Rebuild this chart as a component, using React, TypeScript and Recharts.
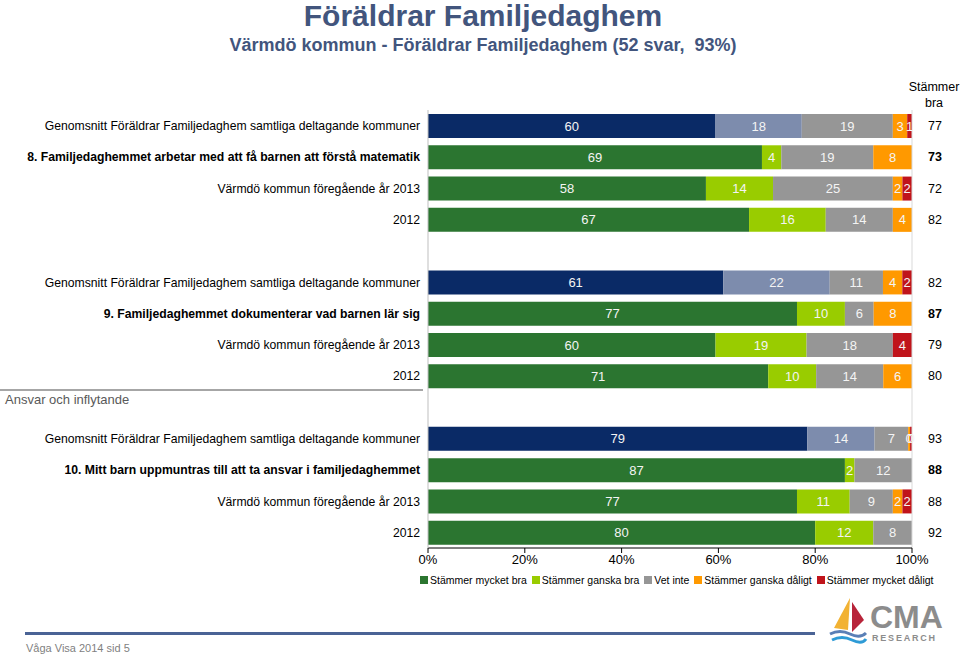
import React from "react";
import { BarChart, Bar, XAxis, YAxis, Cell, LabelList, ReferenceLine } from "recharts";

const categories = [
  "Genomsnitt Föräldrar Familjedaghem samtliga deltagande kommuner",
  "8. Familjedaghemmet arbetar med att få barnen att förstå matematik",
  "Värmdö kommun föregående år 2013",
  "2012",
  "",
  "Genomsnitt Föräldrar Familjedaghem samtliga deltagande kommuner",
  "9. Familjedaghemmet dokumenterar vad barnen lär sig",
  "Värmdö kommun föregående år 2013",
  "2012",
  "",
  "Genomsnitt Föräldrar Familjedaghem samtliga deltagande kommuner",
  "10. Mitt barn uppmuntras till att ta ansvar i familjedaghemmet",
  "Värmdö kommun föregående år 2013",
  "2012",
];
const rowKind = ["avg", "q", "prev", "prev", "gap", "avg", "q", "prev", "prev", "gap", "avg", "q", "prev", "prev"];

const mycketBra = [60, 69, 58, 67, null, 61, 77, 60, 71, null, 79, 87, 77, 80];
const ganskaBra = [18, 4, 14, 16, null, 22, 10, 19, 10, null, 14, 2, 11, 12];
const vetInte = [19, 19, 25, 14, null, 11, 6, 18, 14, null, 7, 12, 9, 8];
const ganskaDaligt = [3, 8, 2, 4, null, 4, 8, 0, 6, null, 0.4, 0, 2, 0];
const mycketDaligt = [1, 0, 2, 0, null, 2, 0, 4, 0, null, 0.4, 0, 2, 0];
const stammerBra = [77, 73, 72, 82, null, 82, 87, 79, 80, null, 93, 88, 88, 92];

const seriesNames = ["Stämmer mycket bra", "Stämmer ganska bra", "Vet inte", "Stämmer ganska dåligt", "Stämmer mycket dåligt"];
const seriesColors = ["#2B7530", "#99CC00", "#969696", "#FF9900", "#C0141B"];
const avgColors = ["#0A2A66", "#7D8CAD"];
const xTicks = [0, 0.2, 0.4, 0.6, 0.8, 1];

const data = categories.map((name, i) => ({
  id: "r" + i,
  name,
  kind: rowKind[i],
  mb: mycketBra[i],
  gb: ganskaBra[i],
  vi: vetInte[i],
  gd: ganskaDaligt[i],
  md: mycketDaligt[i],
  sb: stammerBra[i],
}));

const FONT = "'Liberation Sans', Arial, sans-serif";

const CategoryTick = (props: any) => {
  const { x, y, payload } = props;
  const idx = data.findIndex((d) => d.id === payload.value);
  const row = data[idx];
  if (!row || row.kind === "gap") return null;
  const bold = row.kind === "q";
  return (
    <g>
      <text x={x} y={y} dy={4.5} textAnchor="end" fontSize={12.2} fontFamily={FONT} fontWeight={bold ? "bold" : "normal"} fill="#000">
        {row.name}
      </text>
      <text x={935} y={y} dy={4.5} textAnchor="middle" fontSize={12.5} fontFamily={FONT} fontWeight={bold ? "bold" : "normal"} fill="#000">
        {row.sb}
      </text>
    </g>
  );
};

const fmt = (v: any) => (v == null ? "" : String(Math.round(Number(v))));

const keys = ["mb", "gb", "vi", "gd", "md"];

export default function App() {
  return (
    <div style={{ position: "absolute", left: 0, top: 0, width: 960, height: 657, background: "#fff", fontFamily: FONT, overflow: "hidden" }}>
      <div style={{ position: "absolute", left: 0, top: 0, width: 966, textAlign: "center", fontSize: 30, lineHeight: "32px", fontWeight: "bold", color: "#42557D" }}>
        Föräldrar Familjedaghem
      </div>
      <div style={{ position: "absolute", left: 0, top: 35, width: 966, textAlign: "center", fontSize: 18, fontWeight: "bold", color: "#42557D" }}>
        Värmdö kommun - Föräldrar Familjedaghem (52 svar,&nbsp; 93%)
      </div>
      <div style={{ position: "absolute", left: 905, top: 79, width: 58, textAlign: "center", fontSize: 12.5, lineHeight: "16px", color: "#000" }}>
        Stämmer<br />bra
      </div>
      <BarChart
        width={960}
        height={657}
        data={data}
        layout="vertical"
        stackOffset="expand"
        margin={{ top: 110, right: 48, bottom: 79, left: 0 }}
        barSize={24}
      >
        <XAxis
          type="number"
          domain={[0, 1]}
          ticks={xTicks}
          tickFormatter={(v: number) => Math.round(v * 100) + "%"}
          height={30}
          axisLine={{ stroke: "#000" }}
          tickLine={{ stroke: "#000" }}
          tickSize={5}
          tick={{ fontSize: 13, fill: "#000", fontFamily: FONT }}
          interval={0}
        />
        <YAxis
          type="category"
          dataKey="id"
          width={428}
          axisLine={{ stroke: "#BFBFBF" }}
          tickLine={false}
          tick={<CategoryTick />}
          interval={0}
        />
        <ReferenceLine x={1} stroke="#D9D9D9" />
        {keys.map((k, si) => (
          <Bar key={k} dataKey={k} name={seriesNames[si]} stackId="s" fill={seriesColors[si]} isAnimationActive={false}>
            {si < 2 &&
              data.map((d, i) => <Cell key={i} fill={d.kind === "avg" ? avgColors[si] : seriesColors[si]} />)}
            <LabelList dataKey={k} position="center" formatter={fmt} fill="#F4F4F4" fontSize={13} fontFamily={FONT} />
          </Bar>
        ))}
      </BarChart>
      <div style={{ position: "absolute", left: 0, top: 389, width: 423, height: 0, borderTop: "2px solid #A6A6A6" }} />
      <div style={{ position: "absolute", left: 5, top: 392, fontSize: 13, color: "#595959" }}>Ansvar och inflytande</div>
      <div style={{ position: "absolute", left: 420, top: 574, width: 520, display: "flex", gap: 5, fontSize: 10.5, color: "#000", whiteSpace: "nowrap" }}>
        {seriesNames.map((n, i) => (
          <div key={n} style={{ display: "flex", alignItems: "center" }}>
            <span style={{ display: "inline-block", width: 8, height: 8, background: seriesColors[i], marginRight: 2 }} />
            {n}
          </div>
        ))}
      </div>
      <div style={{ position: "absolute", left: 25, top: 632, width: 790, height: 3, background: "#4A6395" }} />
      <div style={{ position: "absolute", left: 26, top: 642, fontSize: 11, color: "#7F7F7F" }}>Våga Visa 2014 sid 5</div>
      <svg style={{ position: "absolute", left: 826, top: 594 }} width={134} height={60}>
        <polygon points="8,34 24,4 22,36" fill="#F2B233" />
        <polygon points="26,8 38,26 26,38" fill="#B8243A" />
        <path d="M4,40 Q14,35 24,40 T40,39" stroke="#5A7FB6" strokeWidth={3} fill="none" />
        <path d="M6,46 Q16,41 26,46 T40,45" stroke="#2E9BD6" strokeWidth={3} fill="none" />
        <text x={44} y={34} fontSize={32} fontWeight="bold" fill="#8C8C8C" fontFamily={FONT}>CMA</text>
        <text x={46} y={47} fontSize={9} fontWeight="bold" fill="#8C8C8C" fontFamily={FONT} letterSpacing={1.8}>RESEARCH</text>
      </svg>
    </div>
  );
}
